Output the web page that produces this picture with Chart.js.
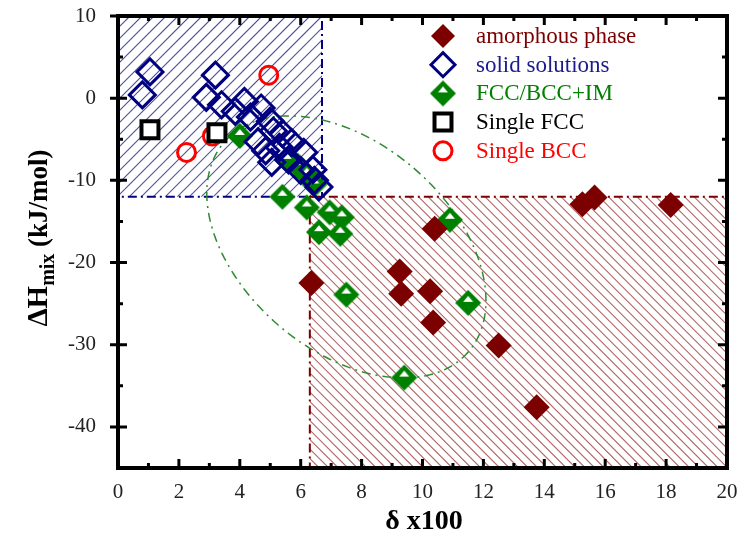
<!DOCTYPE html>
<html>
<head>
<meta charset="utf-8">
<script src="https://cdn.jsdelivr.net/npm/chart.js@4.4.0/dist/chart.umd.min.js"></script>
<style>
  html, body { margin: 0; padding: 0; background: #fff; }
</style>
</head>
<body>
<canvas id="phaseChart" width="743" height="548"></canvas>
<script>
// delta x100 (x) and mixing enthalpy in kJ/mol (y) for each phase group
const amorphousX = [6.35, 9.25, 9.3, 10.25, 10.35, 12.5, 10.4, 15.25, 15.65, 18.15, 13.75];
const amorphousY = [-22.5, -21.1, -23.8, -23.5, -27.3, -30.1, -15.9, -12.9, -12.1, -13.0, -37.6];

const solidX = [1.05, 0.8, 3.2, 2.9, 3.4, 4.15, 3.85, 4.7, 4.35, 5.0, 5.1, 5.4, 5.7, 4.6, 4.85, 5.05, 5.6, 6.0, 6.1, 6.45, 6.6, 5.3, 6.4];
const solidY = [3.2, 0.4, 2.8, 0.1, -0.8, -0.4, -1.6, -1.2, -2.3, -2.8, -4.0, -4.3, -5.4, -5.3, -6.4, -7.8, -7.5, -8.8, -6.6, -10.0, -10.8, -6.0, -8.7];

const imX = [4.0, 5.55, 5.9, 6.2, 6.45, 5.4, 6.2, 6.95, 7.35, 6.6, 7.3, 10.9, 7.5, 11.5, 9.4];
const imY = [-4.6, -7.5, -8.2, -9.3, -10.5, -12.0, -13.3, -13.9, -14.5, -16.3, -16.5, -14.8, -23.9, -24.9, -34.0];

const fccX = [1.05, 3.25];
const fccY = [-3.85, -4.2];

const bccX = [2.25, 3.1, 4.95];
const bccY = [-6.6, -4.6, 2.8];

const seriesNames = ['amorphous phase', 'solid solutions', 'FCC/BCC+IM', 'Single FCC', 'Single BCC'];

const xTicks = [0, 2, 4, 6, 8, 10, 12, 14, 16, 18, 20];
const xMinor = [1, 3, 5, 7, 9, 11, 13, 15, 17, 19];
const yTicks = [10, 0, -10, -20, -30, -40];
const yMinor = [5, -5, -15, -25, -35];

// shaded regions: [xFrom, xTo, yTop, yBottom]
const solidZone = [0, 6.7, 10, -12];
const amorphousZone = [6.3, 20, -12, -45];
// dash-dot ellipse: centre and two conjugate half-axes, in data units
const ellipseCenter = [7.5, -18.1];
const ellipseU = [4.0, -12.8];
const ellipseV = [-2.24, -9.5];

const NAVY = '#000080';
const DARKRED = '#7d0000';
const GREEN = '#008000';
const SERIF = '"Liberation Serif", "Times New Roman", serif';

function toPoints(xs, ys) {
  return xs.map((x, i) => ({ x: x, y: ys[i] }));
}

// green diamond with a white triangle in its upper half
function halfDiamond(r, color) {
  const c = document.createElement('canvas');
  const s = 2 * r + 2;
  c.width = s; c.height = s;
  const g = c.getContext('2d');
  const m = s / 2;
  g.fillStyle = color;
  g.beginPath();
  g.moveTo(m, m - r); g.lineTo(m + r, m); g.lineTo(m, m + r); g.lineTo(m - r, m);
  g.closePath(); g.fill();
  g.fillStyle = '#fff';
  g.beginPath();
  g.moveTo(m, m - r + 6); g.lineTo(m + r - 8, m - 1); g.lineTo(m - r + 8, m - 1);
  g.closePath(); g.fill();
  return c;
}

const imMarker = halfDiamond(13, GREEN);

function hatch(ctx, x0, y0, x1, y1, step, rising, color, width) {
  ctx.save();
  ctx.beginPath();
  ctx.rect(x0, y0, x1 - x0, y1 - y0);
  ctx.clip();
  ctx.strokeStyle = color;
  ctx.lineWidth = width;
  ctx.beginPath();
  const h = y1 - y0;
  for (let k = -h; k < (x1 - x0) + h; k += step) {
    if (rising) {
      ctx.moveTo(x0 + k, y1); ctx.lineTo(x0 + k + h, y0);
    } else {
      ctx.moveTo(x0 + k, y0); ctx.lineTo(x0 + k + h, y1);
    }
  }
  ctx.stroke();
  ctx.restore();
}

function zoneBox(chart, zone) {
  const sx = chart.scales.x, sy = chart.scales.y;
  return [sx.getPixelForValue(zone[0]), sy.getPixelForValue(zone[2]),
          sx.getPixelForValue(zone[1]), sy.getPixelForValue(zone[3])];
}

const decor = {
  id: 'decor',
  beforeDatasetsDraw(chart) {
    const ctx = chart.ctx;
    const sx = chart.scales.x, sy = chart.scales.y;

    // hatched regions
    let b = zoneBox(chart, solidZone);
    hatch(ctx, b[0], b[1], b[2], b[3], 12, true, 'rgba(0,0,128,0.7)', 1.1);
    ctx.save();
    ctx.setLineDash([9, 4, 2, 4]);
    ctx.lineWidth = 2;
    ctx.strokeStyle = NAVY;
    ctx.strokeRect(b[0], b[1], b[2] - b[0], b[3] - b[1]);
    ctx.restore();

    b = zoneBox(chart, amorphousZone);
    hatch(ctx, b[0], b[1], b[2], b[3], 9.5, false, 'rgba(125,0,0,0.6)', 1.1);
    ctx.save();
    ctx.setLineDash([9, 4, 2, 4]);
    ctx.lineWidth = 2;
    ctx.strokeStyle = DARKRED;
    ctx.strokeRect(b[0], b[1], b[2] - b[0], b[3] - b[1]);
    ctx.restore();

    // ellipse around the mixed-phase alloys
    ctx.save();
    ctx.setLineDash([9, 5, 2, 5]);
    ctx.lineWidth = 1.5;
    ctx.strokeStyle = '#2e8b2e';
    ctx.beginPath();
    for (let i = 0; i <= 180; i++) {
      const t = i / 180 * Math.PI * 2;
      const vx = ellipseCenter[0] + ellipseU[0] * Math.cos(t) + ellipseV[0] * Math.sin(t);
      const vy = ellipseCenter[1] + ellipseU[1] * Math.cos(t) + ellipseV[1] * Math.sin(t);
      const px = sx.getPixelForValue(vx), py = sy.getPixelForValue(vy);
      if (i === 0) ctx.moveTo(px, py); else ctx.lineTo(px, py);
    }
    ctx.stroke();
    ctx.restore();
  },
  afterDatasetsDraw(chart) {
    const ctx = chart.ctx;
    const a = chart.chartArea;
    const sx = chart.scales.x, sy = chart.scales.y;

    // frame and inward ticks
    ctx.save();
    ctx.strokeStyle = '#000';
    ctx.lineWidth = 4;
    ctx.strokeRect(a.left, a.top, a.right - a.left, a.bottom - a.top);
    ctx.lineWidth = 3;
    ctx.beginPath();
    xTicks.forEach(v => {
      const p = sx.getPixelForValue(v);
      ctx.moveTo(p, a.bottom); ctx.lineTo(p, a.bottom - 9);
      ctx.moveTo(p, a.top); ctx.lineTo(p, a.top + 9);
    });
    xMinor.forEach(v => {
      const p = sx.getPixelForValue(v);
      ctx.moveTo(p, a.bottom); ctx.lineTo(p, a.bottom - 5);
      ctx.moveTo(p, a.top); ctx.lineTo(p, a.top + 5);
    });
    yTicks.forEach(v => {
      const p = sy.getPixelForValue(v);
      ctx.moveTo(a.left - 8, p); ctx.lineTo(a.left + 9, p);
      ctx.moveTo(a.right, p); ctx.lineTo(a.right - 9, p);
    });
    yMinor.forEach(v => {
      const p = sy.getPixelForValue(v);
      ctx.moveTo(a.left, p); ctx.lineTo(a.left + 5, p);
      ctx.moveTo(a.right, p); ctx.lineTo(a.right - 5, p);
    });
    ctx.stroke();
    ctx.restore();

    // legend
    const colors = [DARKRED, '#1a1a8c', GREEN, '#000', '#ff0000'];
    ctx.save();
    ctx.font = '23px ' + SERIF;
    ctx.textBaseline = 'middle';
    chart.data.datasets.forEach((ds, i) => {
      const y = 36 + i * 28.7;
      const opts = {
        pointStyle: ds.pointStyle,
        radius: Math.min(ds.pointRadius, 12),
        rotation: 0,
        borderWidth: ds.borderWidth
      };
      ctx.fillStyle = ds.backgroundColor;
      ctx.strokeStyle = ds.borderColor;
      ctx.lineWidth = ds.borderWidth;
      Chart.helpers.drawPoint(ctx, opts, 443, y);
      ctx.fillStyle = colors[i];
      ctx.fillText(seriesNames[i], 476, y + 1);
    });
    ctx.restore();

    // axis titles
    ctx.save();
    ctx.fillStyle = '#000';
    ctx.textBaseline = 'middle';
    ctx.textAlign = 'center';
    ctx.font = 'bold 28px ' + SERIF;
    ctx.fillText('\u03b4 x100', 424, 522);

    ctx.translate(40, 238);
    ctx.rotate(-Math.PI / 2);
    ctx.textAlign = 'left';
    const f1 = 'bold 29px ' + SERIF, f2 = 'bold 20px ' + SERIF, f3 = 'bold 27px ' + SERIF;
    ctx.font = f1; const w1 = ctx.measureText('\u0394H').width;
    ctx.font = f2; const w2 = ctx.measureText('mix').width;
    ctx.font = f3; const w3 = ctx.measureText(' (kJ/mol)').width;
    let x = -(w1 + w2 + w3) / 2;
    ctx.font = f1; ctx.fillText('\u0394H', x, 0); x += w1;
    ctx.font = f2; ctx.fillText('mix', x, 9); x += w2;
    ctx.font = f3; ctx.fillText(' (kJ/mol)', x, 0);
    ctx.restore();
  }
};

new Chart(document.getElementById('phaseChart').getContext('2d'), {
  type: 'scatter',
  data: {
    datasets: [
      {
        label: seriesNames[0],
        data: toPoints(amorphousX, amorphousY),
        pointStyle: 'rectRot',
        pointRadius: 13,
        backgroundColor: DARKRED,
        borderColor: DARKRED,
        borderWidth: 0
      },
      {
        label: seriesNames[1],
        data: toPoints(solidX, solidY),
        pointStyle: 'rectRot',
        pointRadius: 13,
        backgroundColor: 'rgba(0,0,0,0)',
        borderColor: NAVY,
        borderWidth: 3
      },
      {
        label: seriesNames[2],
        data: toPoints(imX, imY),
        pointStyle: imMarker,
        pointRadius: 13,
        backgroundColor: GREEN,
        borderColor: GREEN,
        borderWidth: 0
      },
      {
        label: seriesNames[3],
        data: toPoints(fccX, fccY),
        pointStyle: 'rect',
        pointRadius: 12,
        backgroundColor: '#fff',
        borderColor: '#000',
        borderWidth: 4
      },
      {
        label: seriesNames[4],
        data: toPoints(bccX, bccY),
        pointStyle: 'circle',
        pointRadius: 9,
        backgroundColor: 'rgba(0,0,0,0)',
        borderColor: '#ff0000',
        borderWidth: 3
      }
    ]
  },
  options: {
    responsive: false,
    animation: false,
    events: [],
    layout: { padding: { left: 0, right: 13, top: 12, bottom: 0 } },
    plugins: {
      legend: { display: false },
      tooltip: { enabled: false }
    },
    elements: { point: { hoverRadius: 0 } },
    scales: {
      x: {
        type: 'linear',
        min: 0,
        max: 20,
        afterBuildTicks: s => { s.ticks = xTicks.map(v => ({ value: v })); },
        afterFit: s => { s.height = 80; s.paddingLeft = 0; s.paddingRight = 0; },
        grid: { display: false, drawTicks: false },
        border: { display: false },
        ticks: { padding: 12, color: '#222', font: { family: SERIF, size: 21 } }
      },
      y: {
        type: 'linear',
        min: -45,
        max: 10,
        afterBuildTicks: s => { s.ticks = yTicks.map(v => ({ value: v })); },
        afterFit: s => { s.width = 118; s.paddingTop = 0; s.paddingBottom = 0; },
        grid: { display: false, drawTicks: false },
        border: { display: false },
        ticks: { padding: 22, color: '#222', font: { family: SERIF, size: 21 } }
      }
    }
  },
  plugins: [decor]
});
</script>
</body>
</html>
